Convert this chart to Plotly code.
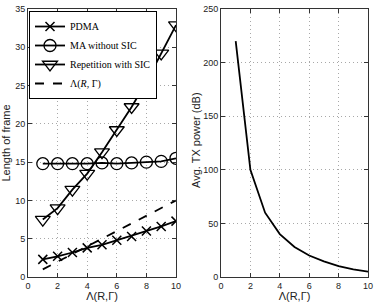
import plotly.graph_objects as go

lam = [1, 2, 3, 4, 5, 6, 7, 8, 9, 10]
pdma = [2.3, 2.7, 3.2, 3.8, 4.2, 4.8, 5.3, 6.0, 6.6, 7.3]
ma_no_sic = [14.8, 14.8, 14.8, 14.8, 14.9, 14.8, 14.9, 15.0, 15.1, 15.5]
rep_sic = [7.5, 9.0, 11.4, 13.5, 16.3, 19.2, 22.2, 25.5, 29.2, 32.9]
lam_bound = [1, 2, 3, 4, 5, 6, 7, 8, 9, 10]
power = [220, 100, 60, 40, 28, 20, 14.6, 10.2, 7.1, 5.0]

x_ticks = [0, 2, 4, 6, 8, 10]
y1_ticks = [0, 5, 10, 15, 20, 25, 30, 35]
y2_ticks = [0, 50, 100, 150, 200, 250]

fig = go.Figure()
fig.add_trace(go.Scatter(x=lam, y=pdma, name="PDMA", mode="lines+markers",
    line=dict(color="black", width=1.8),
    marker=dict(symbol="x-thin-open", size=9, color="black", line=dict(color="black", width=1.5)),
    xaxis="x", yaxis="y"))
fig.add_trace(go.Scatter(x=lam, y=ma_no_sic, name="MA without SIC", mode="lines+markers",
    line=dict(color="black", width=1.8),
    marker=dict(symbol="circle-open", size=12, color="black", line=dict(color="black", width=1.3)),
    xaxis="x", yaxis="y"))
fig.add_trace(go.Scatter(x=lam, y=rep_sic, name="Repetition with SIC", mode="lines+markers",
    line=dict(color="black", width=1.8),
    marker=dict(symbol="triangle-down-open", size=13, color="black", line=dict(color="black", width=1.3)),
    xaxis="x", yaxis="y"))
fig.add_trace(go.Scatter(x=lam, y=lam_bound, name="Λ(<i>R</i>, Γ)", mode="lines",
    line=dict(color="black", width=1.8, dash="dash"),
    xaxis="x", yaxis="y"))
fig.add_trace(go.Scatter(x=lam, y=power, name="power", mode="lines", showlegend=False,
    line=dict(color="black", width=1.8),
    xaxis="x2", yaxis="y2"))

common_axis = dict(
    showline=True, linecolor="#333", linewidth=1, mirror="ticks",
    ticks="inside", ticklen=4, tickcolor="#333",
    showgrid=True, gridcolor="#a8a8a8", griddash="1px,3px", gridwidth=1,
    zeroline=False, tickfont=dict(family="Liberation Sans", size=9, color="#222"),
    automargin=False,
)
title_font = dict(family="Liberation Sans", size=11, color="#222")

fig.update_layout(
    width=374, height=302,
    margin=dict(l=0, r=0, t=0, b=0),
    paper_bgcolor="white", plot_bgcolor="white",
    xaxis=dict(domain=[28/374, 176/374], range=[0, 10], tickvals=x_ticks,
               title=dict(text="Λ(R,Γ)", font=title_font, standoff=0),
               anchor="y", **common_axis),
    yaxis=dict(domain=[1-277/302, 1-9/302], range=[0, 35], tickvals=y1_ticks,
               title=dict(text="Length of frame", font=title_font, standoff=6),
               anchor="x", **common_axis),
    xaxis2=dict(domain=[221/374, 368/374], range=[0, 10], tickvals=x_ticks,
                title=dict(text="Λ(R,Γ)", font=title_font, standoff=0),
                anchor="y2", **common_axis),
    yaxis2=dict(domain=[1-277/302, 1-9/302], range=[0, 250], tickvals=y2_ticks,
                anchor="x2", **common_axis),
    annotations=[dict(text="Avg. TX power (dB)", textangle=-90, font=title_font,
                      xref="paper", yref="paper", x=196/374, y=1-140/302,
                      xanchor="center", yanchor="middle", showarrow=False)],
    legend=dict(x=29/374, y=1-11/302, xanchor="left", yanchor="top",
                bgcolor="white", bordercolor="black", borderwidth=1,
                font=dict(family="Liberation Serif", size=10, color="black"),
                tracegroupgap=0, itemwidth=30),
    showlegend=True,
)

fig.write_html("out.html", config={"displayModeBar": False},
               post_script="document.body.style.margin='0';document.body.style.overflow='hidden';")
